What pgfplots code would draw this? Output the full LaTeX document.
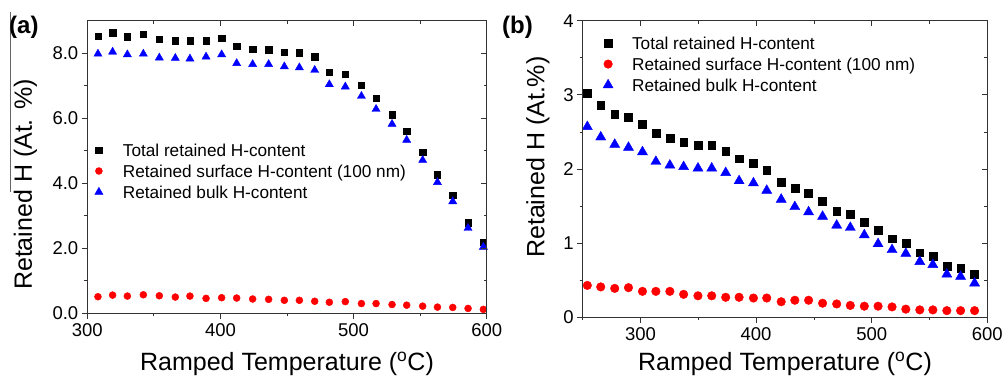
\documentclass[border=0pt]{standalone}
\usepackage{pgfplots}
\pgfplotsset{compat=1.18}
\usepackage{fontspec}
\setmainfont{Liberation Sans}
\definecolor{myred}{RGB}{255,0,0}
\definecolor{myblue}{RGB}{0,0,255}
\pgfplotsset{
  common/.style={
    scale only axis,
    axis line style={line width=0.9pt, black!80},
    every tick/.style={line width=0.8pt, black!80},
    major tick length=5.5pt,
    minor tick length=3pt,
  },
  mystyle/.style={
    common,
    tick align=outside,
    xtick pos=left, ytick pos=left,
    tick label style={font=\fontsize{18.5}{18.5}\selectfont},
    /pgf/number format/assume math mode=true,
    xticklabel style={yshift=-1.5pt},
    label style={font=\fontsize{25}{25}\selectfont},
    legend cell align=left,
    legend image code/.code={\path[draw=none,fill=none] (-6pt,-6pt) rectangle (24pt,6pt); \draw plot coordinates {(0pt,0pt)};},
    legend style={draw=none, fill=none, inner sep=0pt, outer sep=0pt,
      font=\fontsize{17.2}{17.2}\selectfont, anchor=north west, row sep=0pt,
      nodes={inner sep=0pt, text height=16.6pt, text depth=4.4pt}},
  },
  overlay/.style={
    common,
    tick align=inside,
    xtick pos=right, ytick pos=right,
    xticklabels={}, yticklabels={},
  },
}
\begin{document}
\begin{tikzpicture}
% Panel (a)
\begin{axis}[mystyle,
  at={(87.3pt,62.7pt)}, anchor=south west, width=399.4pt, height=292.6pt,
  xmin=300, xmax=600, ymin=0, ymax=9,
  xtick={300,400,500,600}, minor xtick={350,450,550},
  ytick={0,2,4,6,8}, minor ytick={1,3,5,7},
  yticklabel style={/pgf/number format/.cd, fixed, fixed zerofill, precision=1},
  xlabel={Ramped Temperature (\textsuperscript{o}C)},
  ylabel={Retained H (At. \%)},
  xlabel style={at={(axis description cs:0.5,-0.194)}, anchor=base},
  ylabel style={at={(axis description cs:-0.155,0.44)}, anchor=center},
  legend style={at={(axis description cs:0.014,0.594)}},
]
\addplot[only marks, mark=square*, mark size=3.2pt, color=black] coordinates {
(308,8.53)(319,8.63)(330.1,8.51)(342.1,8.58)(354.1,8.44)(366.1,8.39)(377.1,8.39)(389.2,8.38)(400.9,8.47)(412.2,8.21)(424.2,8.13)(436.2,8.11)(448,8.03)(459.3,8.02)(470.8,7.89)(481.8,7.42)(493.8,7.36)(505.9,7.01)(516.9,6.61)(528.9,6.11)(539.9,5.61)(551.9,4.95)(563,4.26)(574.5,3.64)(586,2.79)(597.5,2.18)};
\addlegendentry{Total retained H-content}
\addplot[only marks, mark=*, mark size=3.5pt, color=myred] coordinates {
(308,0.51)(319,0.56)(330.1,0.53)(342.1,0.57)(354.1,0.54)(366.1,0.50)(377.1,0.53)(389.2,0.46)(400.9,0.48)(412.2,0.47)(424.2,0.44)(436.2,0.43)(448,0.40)(459.3,0.40)(470.8,0.37)(481.8,0.34)(493.8,0.36)(505.9,0.30)(516.9,0.30)(528.9,0.27)(539.9,0.25)(551.9,0.22)(563,0.19)(574.5,0.18)(586,0.15)(597.5,0.12)};
\addlegendentry{Retained surface H-content (100 nm)}
\addplot[only marks, mark=triangle*, mark size=4.7pt, color=myblue] coordinates {
(308,7.98)(319,8.04)(330.1,7.96)(342.1,7.98)(354.1,7.86)(366.1,7.85)(377.1,7.83)(389.2,7.89)(400.9,7.96)(412.2,7.69)(424.2,7.66)(436.2,7.66)(448,7.59)(459.3,7.56)(470.8,7.48)(481.8,7.04)(493.8,6.97)(505.9,6.68)(516.9,6.28)(528.9,5.82)(539.9,5.33)(551.9,4.71)(563,4.03)(574.5,3.44)(586,2.62)(597.5,2.04)};
\addlegendentry{Retained bulk H-content}
\end{axis}
\begin{axis}[overlay,
  at={(87.3pt,62.7pt)}, anchor=south west, width=399.4pt, height=292.6pt,
  xmin=300, xmax=600, ymin=0, ymax=9,
  xtick={300,400,500,600}, minor xtick={350,450,550},
  ytick={0,2,4,6,8}, minor ytick={1,3,5,7},
]
\end{axis}
% Panel (b)
\begin{axis}[mystyle,
  at={(582.7pt,58.7pt)}, anchor=south west, width=404.6pt, height=296.6pt,
  xmin=250, xmax=600, ymin=0, ymax=4,
  xtick={300,400,500,600}, minor xtick={250,350,450,550},
  ytick={0,1,2,3,4}, minor ytick={0.5,1.5,2.5,3.5},
  xlabel={Ramped Temperature (\textsuperscript{o}C)},
  ylabel={Retained H (At.\%)},
  xlabel style={at={(axis description cs:0.5,-0.178)}, anchor=base},
  ylabel style={at={(axis description cs:-0.111,0.54)}, anchor=center},
  legend style={at={(axis description cs:0.048,0.960)}},
]
\addplot[only marks, mark=square*, mark size=3.9pt, color=black] coordinates {
(254,3.02)(265.6,2.86)(277.7,2.74)(289.6,2.70)(301.7,2.60)(313.3,2.48)(325.4,2.42)(337.3,2.36)(349.7,2.32)(361.6,2.32)(373.7,2.24)(385.3,2.14)(397.7,2.08)(409.2,1.98)(421.7,1.82)(433.5,1.74)(445.4,1.67)(457.5,1.57)(469.7,1.43)(481.5,1.39)(493.6,1.28)(505.5,1.17)(517.6,1.06)(529.5,1.00)(541.6,0.87)(552.9,0.82)(565,0.69)(576.9,0.66)(589,0.58)};
\addlegendentry{Total retained H-content}
\addplot[only marks, mark=*, mark size=4.3pt, color=myred] coordinates {
(254,0.43)(265.6,0.41)(277.7,0.39)(289.6,0.40)(301.7,0.35)(313.3,0.35)(325.4,0.35)(337.3,0.31)(349.7,0.29)(361.6,0.29)(373.7,0.27)(385.3,0.27)(397.7,0.26)(409.2,0.26)(421.7,0.21)(433.5,0.23)(445.4,0.23)(457.5,0.19)(469.7,0.18)(481.5,0.16)(493.6,0.15)(505.5,0.15)(517.6,0.14)(529.5,0.11)(541.6,0.10)(552.9,0.10)(565,0.09)(576.9,0.09)(589,0.09)};
\addlegendentry{Retained surface H-content (100 nm)}
\addplot[only marks, mark=triangle*, mark size=5.8pt, color=myblue] coordinates {
(254,2.57)(265.6,2.43)(277.7,2.33)(289.6,2.29)(301.7,2.23)(313.3,2.10)(325.4,2.05)(337.3,2.03)(349.7,2.01)(361.6,2.01)(373.7,1.95)(385.3,1.84)(397.7,1.81)(409.2,1.71)(421.7,1.59)(433.5,1.49)(445.4,1.42)(457.5,1.36)(469.7,1.24)(481.5,1.21)(493.6,1.11)(505.5,0.99)(517.6,0.91)(529.5,0.86)(541.6,0.75)(552.9,0.71)(565,0.58)(576.9,0.55)(589,0.46)};
\addlegendentry{Retained bulk H-content}
\end{axis}
\begin{axis}[overlay,
  at={(582.7pt,58.7pt)}, anchor=south west, width=404.6pt, height=296.6pt,
  xmin=250, xmax=600, ymin=0, ymax=4,
  xtick={300,400,500,600}, minor xtick={250,350,450,550},
  ytick={0,1,2,3,4}, minor ytick={0.5,1.5,2.5,3.5},
]
\end{axis}
\draw[black!60, line width=0.8pt] (10pt,364pt) -- (10pt,184pt);
\node[anchor=base west, font=\fontsize{24}{24}\selectfont\bfseries, inner sep=0pt] at (9pt,343pt) {(a)};
\node[anchor=base west, font=\fontsize{24}{24}\selectfont\bfseries, inner sep=0pt] at (502pt,343pt) {(b)};
\pgfresetboundingbox
\useasboundingbox (0pt,0pt) rectangle (1006pt,376pt);
\end{tikzpicture}
\end{document}
